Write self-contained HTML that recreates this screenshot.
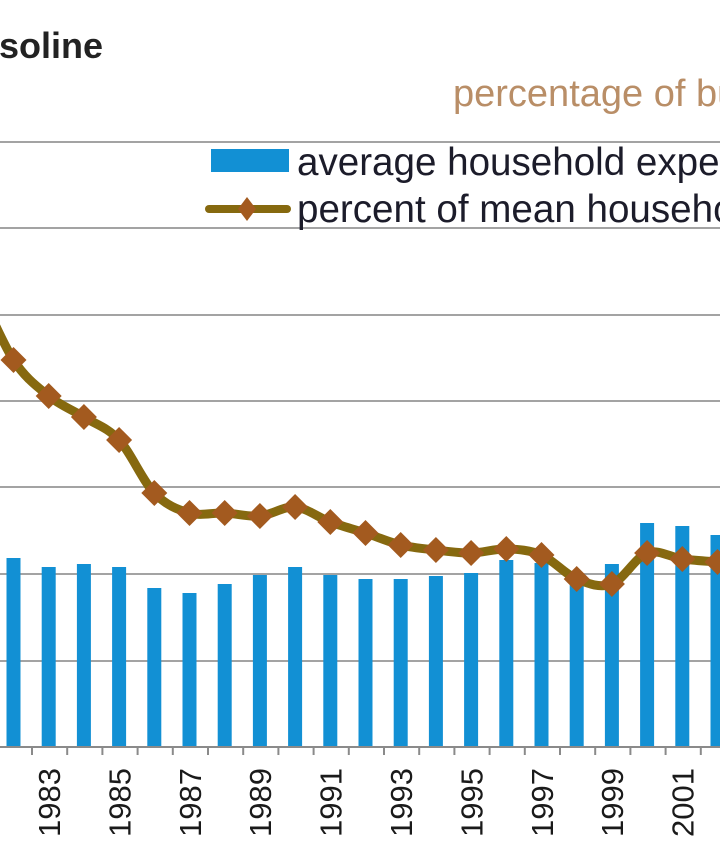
<!DOCTYPE html>
<html>
<head>
<meta charset="utf-8">
<style>
html,body{margin:0;padding:0;background:#fff;}
svg{display:block;}
</style>
</head>
<body>
<svg width="720" height="845" viewBox="0 0 720 845" xmlns="http://www.w3.org/2000/svg">
<rect width="720" height="845" fill="#fff"/>
<!-- title -->
<text x="103" y="58" text-anchor="end" font-family="Liberation Sans, Arial, sans-serif" font-weight="bold" font-size="36" fill="#222">Gasoline</text>
<text x="453" y="106" font-family="Liberation Sans, Arial, sans-serif" font-size="38" fill="#b98e67">percentage of budget</text>

<!-- gridlines -->
<g stroke="#a3a3a3" stroke-width="2">
<line x1="0" y1="142" x2="720" y2="142"/>
<line x1="0" y1="228" x2="720" y2="228"/>
<line x1="0" y1="315" x2="720" y2="315"/>
<line x1="0" y1="401" x2="720" y2="401"/>
<line x1="0" y1="487" x2="720" y2="487"/>
<line x1="0" y1="574" x2="720" y2="574"/>
<line x1="0" y1="661" x2="720" y2="661"/>
</g>

<!-- bars -->
<g fill="#1290d4">
<rect x="6.5" y="558" width="14" height="189"/>
<rect x="41.7" y="567" width="14" height="180"/>
<rect x="76.9" y="564" width="14" height="183"/>
<rect x="112.1" y="567" width="14" height="180"/>
<rect x="147.3" y="588" width="14" height="159"/>
<rect x="182.5" y="593" width="14" height="154"/>
<rect x="217.7" y="584" width="14" height="163"/>
<rect x="252.9" y="575" width="14" height="172"/>
<rect x="288.1" y="567" width="14" height="180"/>
<rect x="323.3" y="575" width="14" height="172"/>
<rect x="358.5" y="579" width="14" height="168"/>
<rect x="393.7" y="579" width="14" height="168"/>
<rect x="428.9" y="576" width="14" height="171"/>
<rect x="464.1" y="573" width="14" height="174"/>
<rect x="499.3" y="560" width="14" height="187"/>
<rect x="534.5" y="563" width="14" height="184"/>
<rect x="569.7" y="585" width="14" height="162"/>
<rect x="604.9" y="564" width="14" height="183"/>
<rect x="640.1" y="523" width="14" height="224"/>
<rect x="675.3" y="526" width="14" height="221"/>
<rect x="710.5" y="535" width="14" height="212"/>
</g>

<!-- axis -->
<line x1="0" y1="747" x2="720" y2="747" stroke="#8a8a8a" stroke-width="2"/>
<g stroke="#8a8a8a" stroke-width="2">
<line x1="32" y1="747" x2="32" y2="755"/>
<line x1="67.2" y1="747" x2="67.2" y2="755"/>
<line x1="102.4" y1="747" x2="102.4" y2="755"/>
<line x1="137.6" y1="747" x2="137.6" y2="755"/>
<line x1="172.8" y1="747" x2="172.8" y2="755"/>
<line x1="208" y1="747" x2="208" y2="755"/>
<line x1="243.2" y1="747" x2="243.2" y2="755"/>
<line x1="278.4" y1="747" x2="278.4" y2="755"/>
<line x1="313.6" y1="747" x2="313.6" y2="755"/>
<line x1="348.8" y1="747" x2="348.8" y2="755"/>
<line x1="384" y1="747" x2="384" y2="755"/>
<line x1="419.2" y1="747" x2="419.2" y2="755"/>
<line x1="454.4" y1="747" x2="454.4" y2="755"/>
<line x1="489.6" y1="747" x2="489.6" y2="755"/>
<line x1="524.8" y1="747" x2="524.8" y2="755"/>
<line x1="560" y1="747" x2="560" y2="755"/>
<line x1="595.2" y1="747" x2="595.2" y2="755"/>
<line x1="630.4" y1="747" x2="630.4" y2="755"/>
<line x1="665.6" y1="747" x2="665.6" y2="755"/>
<line x1="700.8" y1="747" x2="700.8" y2="755"/>
</g>

<!-- x labels -->
<g font-family="Liberation Sans, Arial, sans-serif" font-size="31" fill="#1a1a1a" text-anchor="end">
<text transform="translate(60,768) rotate(-90)">1983</text>
<text transform="translate(130.4,768) rotate(-90)">1985</text>
<text transform="translate(200.8,768) rotate(-90)">1987</text>
<text transform="translate(271.2,768) rotate(-90)">1989</text>
<text transform="translate(341.6,768) rotate(-90)">1991</text>
<text transform="translate(412,768) rotate(-90)">1993</text>
<text transform="translate(482.4,768) rotate(-90)">1995</text>
<text transform="translate(552.8,768) rotate(-90)">1997</text>
<text transform="translate(623.2,768) rotate(-90)">1999</text>
<text transform="translate(693.6,768) rotate(-90)">2001</text>
</g>

<!-- line series (smoothed) -->
<path id="serie" fill="none" stroke="#86690f" stroke-width="9" stroke-linejoin="round" stroke-linecap="round"
d="M-21.7,288 L13.5,360 L48.7,396 L83.9,417 L119.1,440 L154.3,493 L189.5,513 L224.7,513 L259.9,516 L295.1,507 L330.3,522 L365.5,533 L400.7,545 L435.9,550 L471.1,553 L506.3,549 L541.5,555 L576.7,579 L611.9,584 L647.1,553 L682.3,559 L717.5,562 L752.7,565"/>
<g fill="#a35a1f">
<polygon points="13.5,347 26.5,360 13.5,373 0.5,360"/>
<polygon points="48.7,383 61.7,396 48.7,409 35.7,396"/>
<polygon points="83.9,404 96.9,417 83.9,430 70.9,417"/>
<polygon points="119.1,427 132.1,440 119.1,453 106.1,440"/>
<polygon points="154.3,480 167.3,493 154.3,506 141.3,493"/>
<polygon points="189.5,500 202.5,513 189.5,526 176.5,513"/>
<polygon points="224.7,500 237.7,513 224.7,526 211.7,513"/>
<polygon points="259.9,503 272.9,516 259.9,529 246.9,516"/>
<polygon points="295.1,494 308.1,507 295.1,520 282.1,507"/>
<polygon points="330.3,509 343.3,522 330.3,535 317.3,522"/>
<polygon points="365.5,520 378.5,533 365.5,546 352.5,533"/>
<polygon points="400.7,532 413.7,545 400.7,558 387.7,545"/>
<polygon points="435.9,537 448.9,550 435.9,563 422.9,550"/>
<polygon points="471.1,540 484.1,553 471.1,566 458.1,553"/>
<polygon points="506.3,536 519.3,549 506.3,562 493.3,549"/>
<polygon points="541.5,542 554.5,555 541.5,568 528.5,555"/>
<polygon points="576.7,566 589.7,579 576.7,592 563.7,579"/>
<polygon points="611.9,571 624.9,584 611.9,597 598.9,584"/>
<polygon points="647.1,540 660.1,553 647.1,566 634.1,553"/>
<polygon points="682.3,546 695.3,559 682.3,572 669.3,559"/>
<polygon points="717.5,549 730.5,562 717.5,575 704.5,562"/>
</g>

<!-- legend -->
<rect x="211" y="149" width="78" height="23" fill="#1290d4"/>
<line x1="209" y1="209" x2="287" y2="209" stroke="#86690f" stroke-width="8" stroke-linecap="round"/>
<polygon points="247,197 256,209 247,221 238,209" fill="#a35a1f"/>
<g font-family="Liberation Sans, Arial, sans-serif" font-size="38.6" fill="#1c1c2a">
<text x="297" y="175">average household expenditure</text>
<text x="297" y="222">percent of mean household income</text>
</g>
</svg>
<script>
(function(){
  var pts=[[-21.7,288],[13.5,360],[48.7,396],[83.9,417],[119.1,440],[154.3,493],[189.5,513],[224.7,513],[259.9,516],[295.1,507],[330.3,522],[365.5,533],[400.7,545],[435.9,550],[471.1,553],[506.3,549],[541.5,555],[576.7,579],[611.9,584],[647.1,553],[682.3,559],[717.5,562],[752.7,565]];
  var d="M"+pts[0][0]+","+pts[0][1];
  for(var i=0;i<pts.length-1;i++){
    var p0=pts[i-1]||pts[i],p1=pts[i],p2=pts[i+1],p3=pts[i+2]||p2;
    var c1x=p1[0]+(p2[0]-p0[0])/6,c1y=p1[1]+(p2[1]-p0[1])/6;
    var c2x=p2[0]-(p3[0]-p1[0])/6,c2y=p2[1]-(p3[1]-p1[1])/6;
    d+=" C"+c1x.toFixed(1)+","+c1y.toFixed(1)+" "+c2x.toFixed(1)+","+c2y.toFixed(1)+" "+p2[0]+","+p2[1];
  }
  document.getElementById("serie").setAttribute("d",d);
})();
</script>
</body>
</html>
